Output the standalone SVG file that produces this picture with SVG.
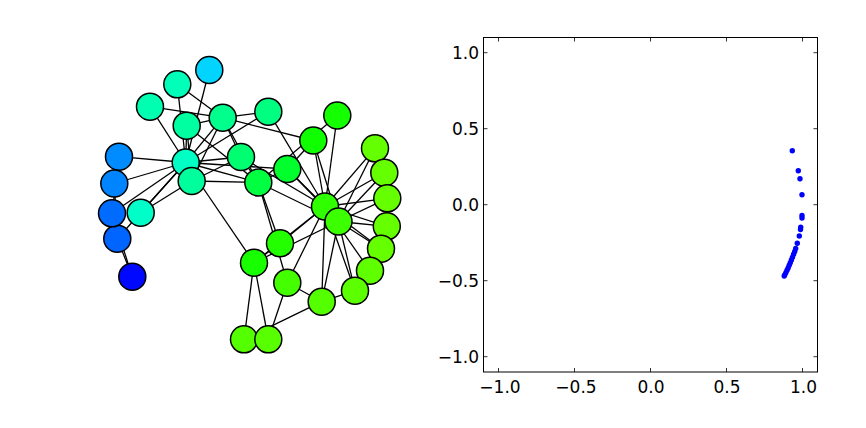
<svg xmlns="http://www.w3.org/2000/svg" width="866" height="428" viewBox="0 0 866 428">
<style>
.e{stroke:#000;stroke-width:1.3;fill:none}
.n{stroke:#000;stroke-width:1.5}
.t{font-family:"DejaVu Sans","Liberation Sans",sans-serif;font-size:17px;fill:#000}
.tk{stroke:#333;stroke-width:1}
.d{fill:#0000ff}
</style>
<rect width="866" height="428" fill="#fff"/>
<g id="edges">
<line class="e" x1="185.7" y1="162.5" x2="222.7" y2="117.7"/>
<line class="e" x1="185.7" y1="162.5" x2="258.3" y2="182.5"/>
<line class="e" x1="185.7" y1="162.5" x2="191.7" y2="181"/>
<line class="e" x1="185.7" y1="162.5" x2="119" y2="156.7"/>
<line class="e" x1="185.7" y1="162.5" x2="117.3" y2="238.7"/>
<line class="e" x1="185.7" y1="162.5" x2="112" y2="213.3"/>
<line class="e" x1="185.7" y1="162.5" x2="186.7" y2="125.7"/>
<line class="e" x1="185.7" y1="162.5" x2="287.3" y2="169"/>
<line class="e" x1="185.7" y1="162.5" x2="114.3" y2="183.5"/>
<line class="e" x1="185.7" y1="162.5" x2="209.3" y2="70"/>
<line class="e" x1="185.7" y1="162.5" x2="140.7" y2="212.7"/>
<line class="e" x1="185.7" y1="162.5" x2="241" y2="157"/>
<line class="e" x1="185.7" y1="162.5" x2="177.3" y2="84.3"/>
<line class="e" x1="185.7" y1="162.5" x2="268.3" y2="111.7"/>
<line class="e" x1="185.7" y1="162.5" x2="150" y2="106.7"/>
<line class="e" x1="185.7" y1="162.5" x2="254" y2="262.7"/>
<line class="e" x1="222.7" y1="117.7" x2="258.3" y2="182.5"/>
<line class="e" x1="222.7" y1="117.7" x2="191.7" y2="181"/>
<line class="e" x1="222.7" y1="117.7" x2="186.7" y2="125.7"/>
<line class="e" x1="222.7" y1="117.7" x2="241" y2="157"/>
<line class="e" x1="222.7" y1="117.7" x2="177.3" y2="84.3"/>
<line class="e" x1="222.7" y1="117.7" x2="268.3" y2="111.7"/>
<line class="e" x1="222.7" y1="117.7" x2="150" y2="106.7"/>
<line class="e" x1="222.7" y1="117.7" x2="313.3" y2="140.5"/>
<line class="e" x1="258.3" y1="182.5" x2="191.7" y2="181"/>
<line class="e" x1="258.3" y1="182.5" x2="186.7" y2="125.7"/>
<line class="e" x1="258.3" y1="182.5" x2="287.3" y2="169"/>
<line class="e" x1="258.3" y1="182.5" x2="337.3" y2="115.5"/>
<line class="e" x1="258.3" y1="182.5" x2="241" y2="157"/>
<line class="e" x1="258.3" y1="182.5" x2="287.3" y2="282.7"/>
<line class="e" x1="258.3" y1="182.5" x2="280" y2="243.3"/>
<line class="e" x1="258.3" y1="182.5" x2="338.5" y2="221.5"/>
<line class="e" x1="191.7" y1="181" x2="186.7" y2="125.7"/>
<line class="e" x1="191.7" y1="181" x2="140.7" y2="212.7"/>
<line class="e" x1="191.7" y1="181" x2="241" y2="157"/>
<line class="e" x1="119" y1="156.7" x2="112" y2="213.3"/>
<line class="e" x1="119" y1="156.7" x2="114.3" y2="183.5"/>
<line class="e" x1="117.3" y1="238.7" x2="112" y2="213.3"/>
<line class="e" x1="117.3" y1="238.7" x2="114.3" y2="183.5"/>
<line class="e" x1="117.3" y1="238.7" x2="132.3" y2="276.7"/>
<line class="e" x1="112" y1="213.3" x2="132.3" y2="276.7"/>
<line class="e" x1="287.3" y1="169" x2="313.3" y2="140.5"/>
<line class="e" x1="287.3" y1="169" x2="338.5" y2="221.5"/>
<line class="e" x1="287.3" y1="169" x2="325" y2="206.5"/>
<line class="e" x1="337.3" y1="115.5" x2="325" y2="206.5"/>
<line class="e" x1="241" y1="157" x2="325" y2="206.5"/>
<line class="e" x1="375" y1="148.3" x2="338.5" y2="221.5"/>
<line class="e" x1="375" y1="148.3" x2="325" y2="206.5"/>
<line class="e" x1="384.3" y1="172.7" x2="338.5" y2="221.5"/>
<line class="e" x1="384.3" y1="172.7" x2="325" y2="206.5"/>
<line class="e" x1="387.3" y1="198.3" x2="338.5" y2="221.5"/>
<line class="e" x1="387.3" y1="198.3" x2="325" y2="206.5"/>
<line class="e" x1="268.3" y1="111.7" x2="325" y2="206.5"/>
<line class="e" x1="386.8" y1="226.3" x2="338.5" y2="221.5"/>
<line class="e" x1="386.8" y1="226.3" x2="325" y2="206.5"/>
<line class="e" x1="381" y1="248.7" x2="338.5" y2="221.5"/>
<line class="e" x1="381" y1="248.7" x2="325" y2="206.5"/>
<line class="e" x1="321.7" y1="301.7" x2="244" y2="339.3"/>
<line class="e" x1="321.7" y1="301.7" x2="287.3" y2="282.7"/>
<line class="e" x1="321.7" y1="301.7" x2="355" y2="290.7"/>
<line class="e" x1="321.7" y1="301.7" x2="338.5" y2="221.5"/>
<line class="e" x1="321.7" y1="301.7" x2="325" y2="206.5"/>
<line class="e" x1="268.3" y1="339.3" x2="244" y2="339.3"/>
<line class="e" x1="268.3" y1="339.3" x2="287.3" y2="282.7"/>
<line class="e" x1="268.3" y1="339.3" x2="254" y2="262.7"/>
<line class="e" x1="244" y1="339.3" x2="254" y2="262.7"/>
<line class="e" x1="370" y1="270.7" x2="355" y2="290.7"/>
<line class="e" x1="370" y1="270.7" x2="325" y2="206.5"/>
<line class="e" x1="287.3" y1="282.7" x2="325" y2="206.5"/>
<line class="e" x1="280" y1="243.3" x2="254" y2="262.7"/>
<line class="e" x1="280" y1="243.3" x2="325" y2="206.5"/>
<line class="e" x1="355" y1="290.7" x2="338.5" y2="221.5"/>
<line class="e" x1="355" y1="290.7" x2="325" y2="206.5"/>
<line class="e" x1="313.3" y1="140.5" x2="338.5" y2="221.5"/>
<line class="e" x1="313.3" y1="140.5" x2="325" y2="206.5"/>
<line class="e" x1="254" y1="262.7" x2="338.5" y2="221.5"/>
<line class="e" x1="254" y1="262.7" x2="325" y2="206.5"/>
<line class="e" x1="338.5" y1="221.5" x2="325" y2="206.5"/>
</g>
<g id="n0"><circle class="n" cx="185.7" cy="162.5" r="13.5" fill="#00ffc4"/></g>
<g id="n1"><circle class="n" cx="222.7" cy="117.7" r="13.5" fill="#00ff8c"/></g>
<g id="n2"><circle class="n" cx="258.3" cy="182.5" r="13.5" fill="#00ff40"/></g>
<g id="n3"><circle class="n" cx="191.7" cy="181" r="13.5" fill="#00ff9c"/></g>
<g id="n4"><circle class="n" cx="119" cy="156.7" r="13.5" fill="#008cff"/></g>
<g id="n5"><circle class="n" cx="117.3" cy="238.7" r="13.5" fill="#0064ff"/></g>
<g id="n6"><circle class="n" cx="112" cy="213.3" r="13.5" fill="#006cff"/></g>
<g id="n7"><circle class="n" cx="186.7" cy="125.7" r="13.5" fill="#00ffa0"/></g>
<g id="n8"><circle class="n" cx="287.3" cy="169" r="13.5" fill="#00ff2c"/></g>
<g id="n9"><circle class="n" cx="337.3" cy="115.5" r="13.5" fill="#14ff00"/></g>
<g id="n10"><circle class="n" cx="114.3" cy="183.5" r="13.5" fill="#0084ff"/></g>
<g id="n11"><circle class="n" cx="209.3" cy="70" r="13.5" fill="#00d4ff"/></g>
<g id="n12"><circle class="n" cx="140.7" cy="212.7" r="13.5" fill="#00ffc8"/></g>
<g id="n13"><circle class="n" cx="241" cy="157" r="13.5" fill="#00ff70"/></g>
<g id="n14"><circle class="n" cx="375" cy="148.3" r="13.5" fill="#64ff00"/></g>
<g id="n15"><circle class="n" cx="384.3" cy="172.7" r="13.5" fill="#66ff00"/></g>
<g id="n16"><circle class="n" cx="132.3" cy="276.7" r="13.5" fill="#0008ff"/></g>
<g id="n17"><circle class="n" cx="177.3" cy="84.3" r="13.5" fill="#00ffb8"/></g>
<g id="n18"><circle class="n" cx="387.3" cy="198.3" r="13.5" fill="#66ff00"/></g>
<g id="n19"><circle class="n" cx="268.3" cy="111.7" r="13.5" fill="#00ff80"/></g>
<g id="n20"><circle class="n" cx="386.8" cy="226.3" r="13.5" fill="#66ff00"/></g>
<g id="n21"><circle class="n" cx="150" cy="106.7" r="13.5" fill="#00ffb0"/></g>
<g id="n22"><circle class="n" cx="381" cy="248.7" r="13.5" fill="#66ff00"/></g>
<g id="n23"><circle class="n" cx="321.7" cy="301.7" r="13.5" fill="#54ff00"/></g>
<g id="n25"><circle class="n" cx="244" cy="339.3" r="13.5" fill="#54ff00"/></g>
<g id="n24"><circle class="n" cx="268.3" cy="339.3" r="13.5" fill="#58ff00"/></g>
<g id="n26"><circle class="n" cx="370" cy="270.7" r="13.5" fill="#60ff00"/></g>
<g id="n27"><circle class="n" cx="287.3" cy="282.7" r="13.5" fill="#44ff00"/></g>
<g id="n28"><circle class="n" cx="280" cy="243.3" r="13.5" fill="#24ff00"/></g>
<g id="n29"><circle class="n" cx="355" cy="290.7" r="13.5" fill="#5cff00"/></g>
<g id="n30"><circle class="n" cx="313.3" cy="140.5" r="13.5" fill="#10ff00"/></g>
<g id="n31"><circle class="n" cx="254" cy="262.7" r="13.5" fill="#18ff00"/></g>
<g id="n33"><circle class="n" cx="325" cy="206.5" r="13.5" fill="#30ff00"/></g>
<g id="n32"><circle class="n" cx="338.5" cy="221.5" r="13.5" fill="#3cff00"/></g>
<g id="plot">
<g class="d">
<circle cx="792.3" cy="150.7" r="2.7"/>
<circle cx="798.3" cy="170.7" r="2.7"/>
<circle cx="800" cy="178.7" r="2.7"/>
<circle cx="802" cy="194.7" r="2.7"/>
<circle cx="802" cy="215.5" r="2.7"/>
<circle cx="802" cy="218" r="2.7"/>
<circle cx="800.7" cy="227.3" r="2.7"/>
<circle cx="800.5" cy="229.5" r="2.7"/>
<circle cx="799.3" cy="236" r="2.7"/>
<circle cx="797.3" cy="243.3" r="2.7"/>
<circle cx="795.7" cy="248.5" r="2.7"/>
<circle cx="794.7" cy="251.5" r="2.7"/>
<circle cx="793.6" cy="254.3" r="2.7"/>
<circle cx="792.5" cy="257.2" r="2.7"/>
<circle cx="791.4" cy="260" r="2.7"/>
<circle cx="790.3" cy="262.7" r="2.7"/>
<circle cx="789.2" cy="265.3" r="2.7"/>
<circle cx="788.1" cy="267.9" r="2.7"/>
<circle cx="787" cy="270.3" r="2.7"/>
<circle cx="785.9" cy="272.6" r="2.7"/>
<circle cx="784.9" cy="274.6" r="2.7"/>
<circle cx="784.2" cy="276" r="2.7"/>
</g>
<g class="tk">
<line x1="498.5" y1="372" x2="498.5" y2="368"/><line x1="498.5" y1="37.5" x2="498.5" y2="41.5"/>
<line x1="574.5" y1="372" x2="574.5" y2="368"/><line x1="574.5" y1="37.5" x2="574.5" y2="41.5"/>
<line x1="650.5" y1="372" x2="650.5" y2="368"/><line x1="650.5" y1="37.5" x2="650.5" y2="41.5"/>
<line x1="726.5" y1="372" x2="726.5" y2="368"/><line x1="726.5" y1="37.5" x2="726.5" y2="41.5"/>
<line x1="802.5" y1="372" x2="802.5" y2="368"/><line x1="802.5" y1="37.5" x2="802.5" y2="41.5"/>
<line x1="483.5" y1="52.7" x2="487.5" y2="52.7"/><line x1="817.5" y1="52.7" x2="813.5" y2="52.7"/>
<line x1="483.5" y1="128.7" x2="487.5" y2="128.7"/><line x1="817.5" y1="128.7" x2="813.5" y2="128.7"/>
<line x1="483.5" y1="204.7" x2="487.5" y2="204.7"/><line x1="817.5" y1="204.7" x2="813.5" y2="204.7"/>
<line x1="483.5" y1="280.7" x2="487.5" y2="280.7"/><line x1="817.5" y1="280.7" x2="813.5" y2="280.7"/>
<line x1="483.5" y1="356.7" x2="487.5" y2="356.7"/><line x1="817.5" y1="356.7" x2="813.5" y2="356.7"/>
</g>
<rect x="483.5" y="37.5" width="334" height="334.5" fill="none" stroke="#000" stroke-width="1"/>
<g class="t" text-anchor="end">
<text x="479" y="59">1.0</text>
<text x="479" y="135">0.5</text>
<text x="479" y="211">0.0</text>
<text x="479" y="287">−0.5</text>
<text x="479" y="363">−1.0</text>
</g>
<g class="t" text-anchor="middle">
<text x="500" y="392.5">−1.0</text>
<text x="576" y="392.5">−0.5</text>
<text x="651" y="392.5">0.0</text>
<text x="727" y="392.5">0.5</text>
<text x="803.5" y="392.5">1.0</text>
</g>
</g>
</svg>
